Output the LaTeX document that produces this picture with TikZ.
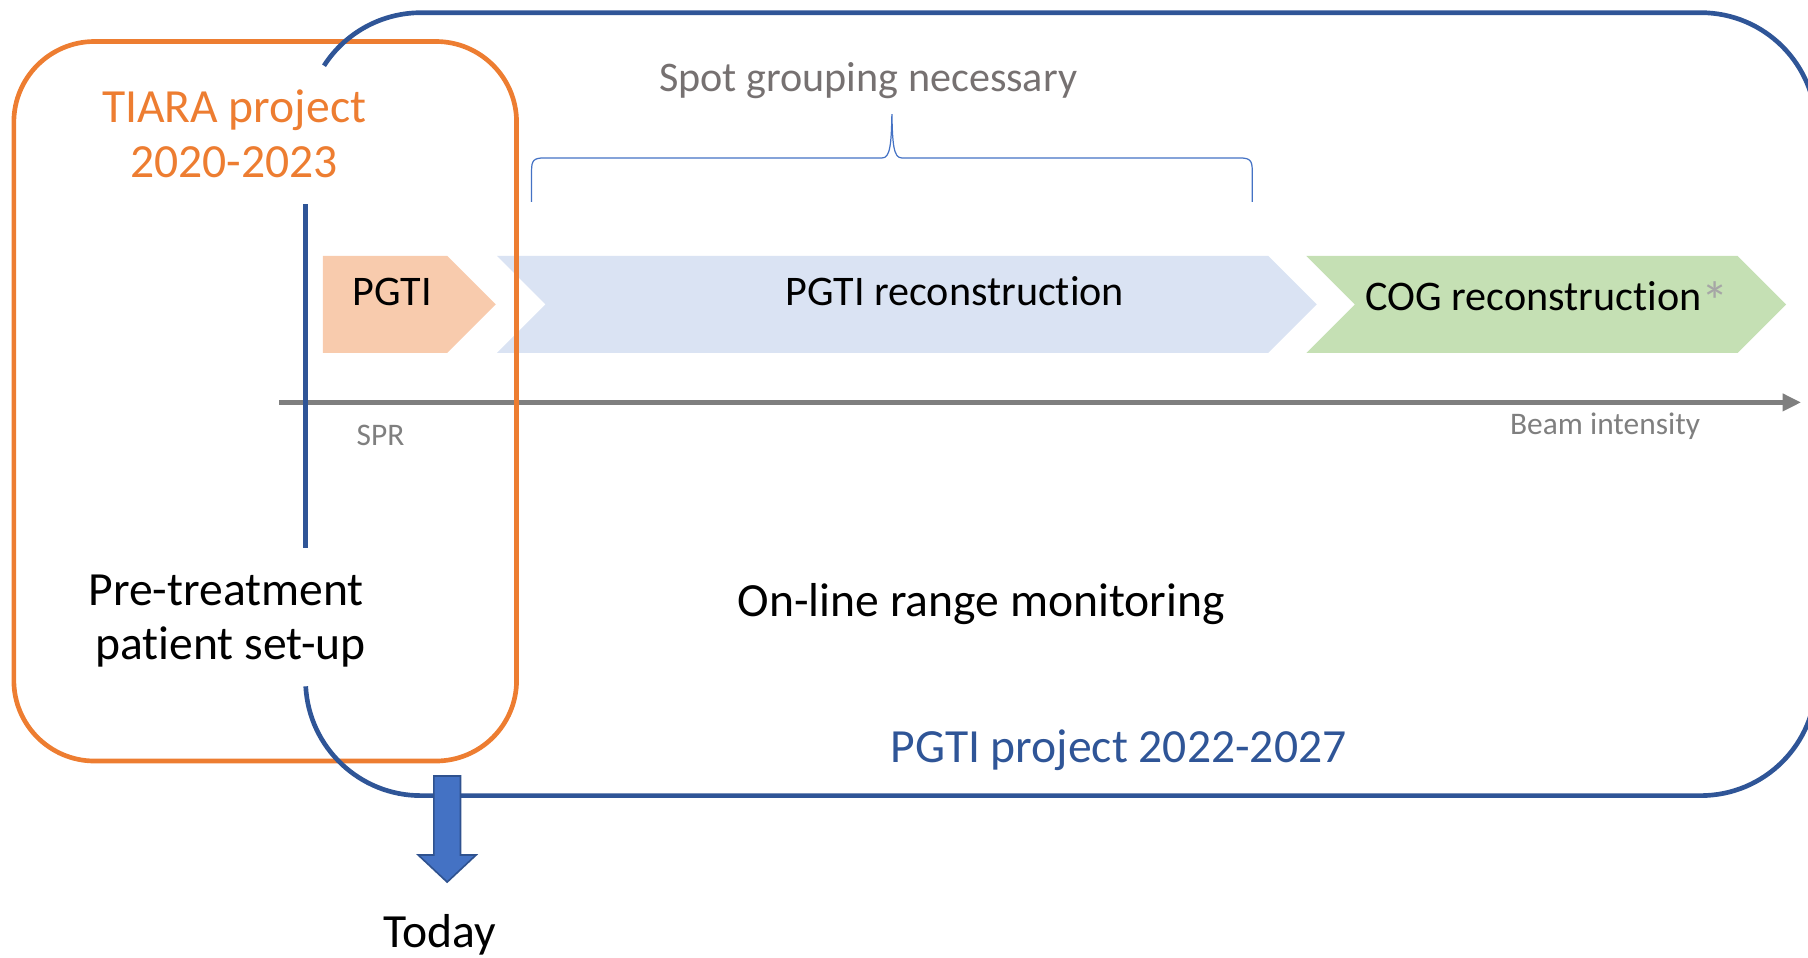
\documentclass[tikz,border=0pt]{standalone}
\usepackage{fontspec}
\setmainfont{Carlito}[Ligatures=NoCommon]
\usetikzlibrary{arrows.meta}

\definecolor{tiaraorange}{HTML}{ED7D31}
\definecolor{pgtiblue}{HTML}{2F5597}
\definecolor{braceblue}{HTML}{4472C4}
\definecolor{arrowedge}{HTML}{2F528F}
\definecolor{peach}{HTML}{F8CBAD}
\definecolor{paleblue}{HTML}{DAE3F3}
\definecolor{palegreen}{HTML}{C5E0B4}
\definecolor{axisgrey}{HTML}{7F7F7F}
\definecolor{notegrey}{HTML}{767171}
\definecolor{stargrey}{HTML}{A6A6A6}

\tikzset{
	bigtxt/.style={anchor=base, inner sep=0pt, font=\fontsize{23.5}{28}\selectfont},
	midtxt/.style={anchor=base, inner sep=0pt, font=\fontsize{20.8}{25}\selectfont},
	smalltxt/.style={anchor=base, inner sep=0pt, text=axisgrey, font=\fontsize{15.5}{19}\selectfont},
	frameline/.style={line width=2.3pt},
}

\begin{document}
\begin{tikzpicture}[x=0.02cm, y=-0.02cm]

	\useasboundingbox (0,0) rectangle (1568,830);
	\clip (0,0) rectangle (1568,830);

	\fill[peach] (280,222) -- (388,222) -- (430,264) -- (388,306) -- (280,306) -- cycle;
	\fill[paleblue] (431,222) -- (1100,222) -- (1142,264) -- (1100,306) -- (431,306) -- (473,264) -- cycle;
	\fill[palegreen] (1133,222) -- (1507,222) -- (1549,264) -- (1507,306) -- (1133,306) -- (1175,264) -- cycle;

	\draw[axisgrey, line width=2.3pt, -{Triangle[length=0.32cm, width=0.29cm]}] (242,349) -- (1562,349);

	\draw[tiaraorange, frameline, rounded corners=1.4cm] (12,36) rectangle (448,660);

	\draw[pgtiblue, frameline] (265,177) -- (265,475);
	\draw[pgtiblue, frameline] (281,57) arc[start angle=212.7, end angle=270, radius=100] -- (1475,11)
		arc[start angle=270, end angle=360, radius=100] -- (1575,590)
		arc[start angle=0, end angle=90, radius=100] -- (365,690)
		arc[start angle=90, end angle=177, radius=100];

	\draw[braceblue, line width=0.6pt] (461,175) -- (461,148) .. controls (461,139) and (463,137) .. (472,137)
		-- (765,137) .. controls (772,137) and (773,125) .. (773.5,99)
		.. controls (774,125) and (775,137) .. (782,137) -- (1075,137)
		.. controls (1084,137) and (1086,139) .. (1086,148) -- (1086,175);

	\draw[arrowedge, fill=braceblue, line width=0.8pt] (376.3,673) -- (399.4,673) -- (399.4,741.5) -- (412.9,741.5)
		-- (387.8,765) -- (362.7,741.5) -- (376.3,741.5) -- cycle;

	\node[bigtxt, text=tiaraorange] (tiara) at (203,106) {TIARA project};
	\node[bigtxt, text=tiaraorange] (tiarayears) at (203,154) {2020-2023};
	\node[bigtxt] (pretreat) at (196,525) {Pre-treatment};
	\node[bigtxt] (setup) at (200,572) {patient set-up};
	\node[bigtxt] (online) at (851,535) {On-line range monitoring};
	\node[bigtxt, text=pgtiblue] (pgtiproject) at (970,661) {PGTI project 2022-2027};
	\node[bigtxt] (today) at (381,822) {Today};

	\node[midtxt] (pgti) at (340,265) {PGTI};
	\node[midtxt] (pgtirecon) at (828,265) {PGTI reconstruction};
	\node[midtxt, anchor=base west] (cogrecon) at (1184,269) {COG reconstruction\textcolor{stargrey}{\fontsize{27}{27}\selectfont\raisebox{-5pt}{*}}};
	\node[midtxt, text=notegrey] (spotgroup) at (753,79) {Spot grouping necessary};

	\node[smalltxt] (spr) at (330,386) {SPR};
	\node[smalltxt] (beam) at (1392,377) {Beam intensity};

\end{tikzpicture}
\end{document}
